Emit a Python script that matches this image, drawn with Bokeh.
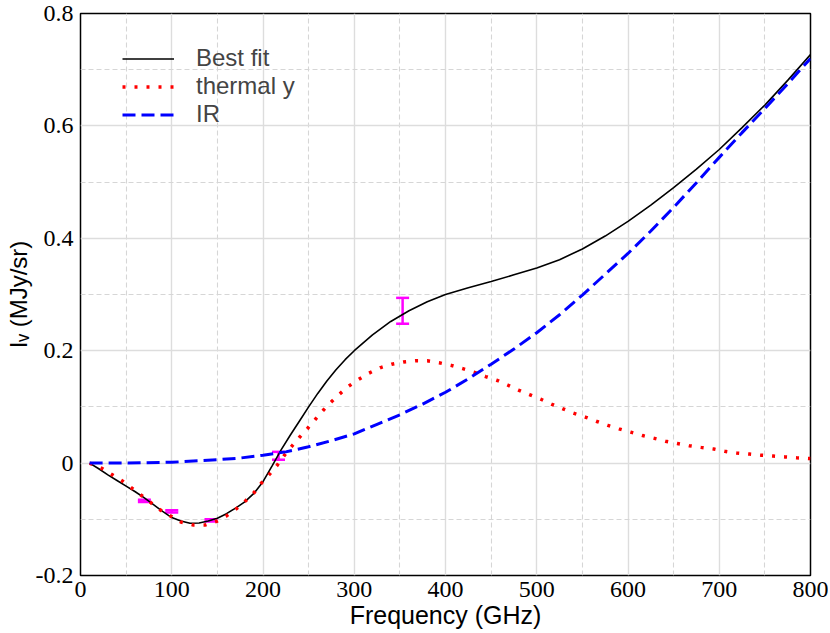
import numpy as np
from bokeh.plotting import figure
from bokeh.models import (Range1d, FixedTicker, ColumnDataSource, Whisker, TeeHead,
                          Legend, LegendItem)
from bokeh.embed import file_html
from bokeh.resources import INLINE

# ---- data ----
fit_freq = [10, 20, 30, 40, 50, 60, 70, 80, 90, 100, 110, 120, 130, 140, 150, 160, 170, 180, 190,
            200, 210, 220, 230, 240, 250, 260, 270, 280, 290, 300, 320, 340, 360, 380, 400, 425,
            450, 475, 500, 525, 550, 575, 600, 625, 650, 675, 700, 725, 750, 775, 800]
fit_val = [0.0, -0.010, -0.021, -0.031, -0.041, -0.051, -0.062, -0.074, -0.086, -0.097, -0.103,
           -0.107, -0.1065, -0.103, -0.098, -0.090, -0.080, -0.069, -0.054, -0.033, -0.005, 0.024,
           0.050, 0.075, 0.100, 0.124, 0.146, 0.166, 0.184, 0.200, 0.228, 0.252, 0.271, 0.287,
           0.300, 0.312, 0.323, 0.335, 0.347, 0.362, 0.381, 0.404, 0.430, 0.459, 0.490, 0.523,
           0.558, 0.597, 0.637, 0.681, 0.727]

ty_freq = [10, 24, 46, 68, 88, 110, 123, 137, 150, 160, 171, 181, 190, 198, 207, 215, 223, 231,
           240, 249, 258, 266, 275, 284, 294, 305, 316, 329, 341, 354, 367, 380, 393, 406, 419,
           431, 444, 457, 468, 480, 492, 504, 516, 528, 540, 553, 566, 578, 590, 603, 616, 629,
           641, 654, 667, 680, 694, 706, 719, 733, 746, 759, 772, 785, 800]
ty_val = [0.0, -0.010, -0.032, -0.059, -0.084, -0.105, -0.110, -0.110, -0.103, -0.094, -0.081,
          -0.067, -0.053, -0.036, -0.020, -0.005, 0.013, 0.029, 0.046, 0.062, 0.079, 0.094, 0.109,
          0.123, 0.137, 0.149, 0.160, 0.170, 0.176, 0.180, 0.182, 0.182, 0.1785, 0.174, 0.168,
          0.162, 0.154, 0.147, 0.139, 0.130, 0.122, 0.114, 0.105, 0.097, 0.089, 0.082, 0.074,
          0.067, 0.061, 0.055, 0.049, 0.044, 0.039, 0.035, 0.031, 0.028, 0.025, 0.021, 0.018,
          0.016, 0.014, 0.0125, 0.011, 0.0095, 0.008]

ir_freq = [10, 50, 100, 150, 175, 200, 225, 250, 275, 300, 325, 350, 375, 400, 425, 450, 475,
           500, 525, 550, 575, 600, 625, 650, 675, 700, 725, 750, 775, 800]
ir_val = [0.0, 0.0003, 0.0015, 0.006, 0.009, 0.014, 0.020, 0.029, 0.040, 0.052, 0.069, 0.086,
          0.105, 0.126, 0.150, 0.176, 0.203, 0.232, 0.264, 0.299, 0.336, 0.373, 0.413, 0.455,
          0.499, 0.544, 0.588, 0.631, 0.675, 0.720]

obs_freq = [70, 100, 143, 217, 353]
obs_val = [-0.067, -0.086, -0.102, 0.013, 0.271]
obs_err = [0.002, 0.002, 0.002, 0.007, 0.023]

x_ticks = [0, 100, 200, 300, 400, 500, 600, 700, 800]
x_minor = [50, 150, 250, 350, 450, 550, 650, 750]
y_ticks = [-0.2, 0, 0.2, 0.4, 0.6, 0.8]
y_minor = [-0.1, 0.1, 0.3, 0.5, 0.7]
y_tick_labels = ["-0.2", "0", "0.2", "0.4", "0.6", "0.8"]

legend_labels = ["Best fit", "thermal y", "IR"]
x_label = "Frequency (GHz)"
y_label = "I\u1d65 (MJy/sr)"

SANS = "Liberation Sans"
SERIF = "Liberation Serif"

# ---- figure ----
p = figure(width=828, height=631, x_range=Range1d(0, 800), y_range=Range1d(-0.2, 0.8),
           output_backend="svg", toolbar_location=None,
           min_border_left=80, min_border_right=18, min_border_top=13, min_border_bottom=55)
p.background_fill_color = "white"
p.border_fill_color = "white"
p.outline_line_color = "black"
p.outline_line_width = 1.5
p.outline_line_alpha = 1.0

xt = FixedTicker(ticks=x_ticks, minor_ticks=x_minor)
yt = FixedTicker(ticks=y_ticks, minor_ticks=y_minor)
p.xaxis.ticker = xt
p.yaxis.ticker = yt
p.xgrid.ticker = xt
p.ygrid.ticker = yt
p.yaxis.major_label_overrides = {t: s for t, s in zip(y_ticks, y_tick_labels)}

for ax in (p.xaxis, p.yaxis):
    ax.axis_line_color = None
    ax.major_tick_out = 0
    ax.major_tick_in = 0
    ax.minor_tick_out = 0
    ax.minor_tick_in = 0
    ax.major_label_text_font = SERIF
    ax.major_label_text_font_size = "24px"
    ax.major_label_text_color = "black"
    ax.axis_label_text_font = SANS
    ax.axis_label_text_font_style = "normal"
    ax.axis_label_text_color = "black"
p.xaxis.axis_label_text_font_size = "25px"
p.yaxis.axis_label_text_font_size = "24px"
p.xaxis.major_label_standoff = 6
p.yaxis.major_label_standoff = 7
p.xaxis.axis_label = x_label
p.yaxis.axis_label = y_label
p.xaxis.axis_label_standoff = 1
p.yaxis.axis_label_standoff = 1

for g in (p.xgrid, p.ygrid):
    g.grid_line_color = "#dddddd"
    g.grid_line_width = 1.4
    g.minor_grid_line_color = "#d6d6d6"
    g.minor_grid_line_width = 1.1
    g.minor_grid_line_dash = "5 3"

# ---- curves ----
r_fit = p.line(fit_freq, fit_val, line_color="black", line_width=1.6)
r_ty = p.line(ty_freq, ty_val, line_color="red", line_width=3.5, line_dash="3 9")
r_ir = p.line(ir_freq, ir_val, line_color="blue", line_width=3, line_dash="13 6")

# ---- error bars ----
lower = [v - e for v, e in zip(obs_val, obs_err)]
upper = [v + e for v, e in zip(obs_val, obs_err)]
src = ColumnDataSource(dict(x=obs_freq, lower=lower, upper=upper))
wh = Whisker(base="x", lower="lower", upper="upper", source=src, dimension="height",
             line_color="#ff00ff", line_width=2.5,
             upper_head=TeeHead(size=13, line_color="#ff00ff", line_width=2.5),
             lower_head=TeeHead(size=13, line_color="#ff00ff", line_width=2.5))
p.add_layout(wh)

# ---- legend ----
legend = Legend(items=[LegendItem(label=legend_labels[0], renderers=[r_fit]),
                       LegendItem(label=legend_labels[1], renderers=[r_ty]),
                       LegendItem(label=legend_labels[2], renderers=[r_ir])],
                location=(42, 447), padding=0, margin=0, spacing=0,
                glyph_width=52, glyph_height=27, label_height=27, label_standoff=22,
                label_text_font=SANS, label_text_font_size="24px",
                border_line_color=None, background_fill_alpha=0)
p.add_layout(legend)

open("out.html", "w").write(file_html(p, INLINE))
